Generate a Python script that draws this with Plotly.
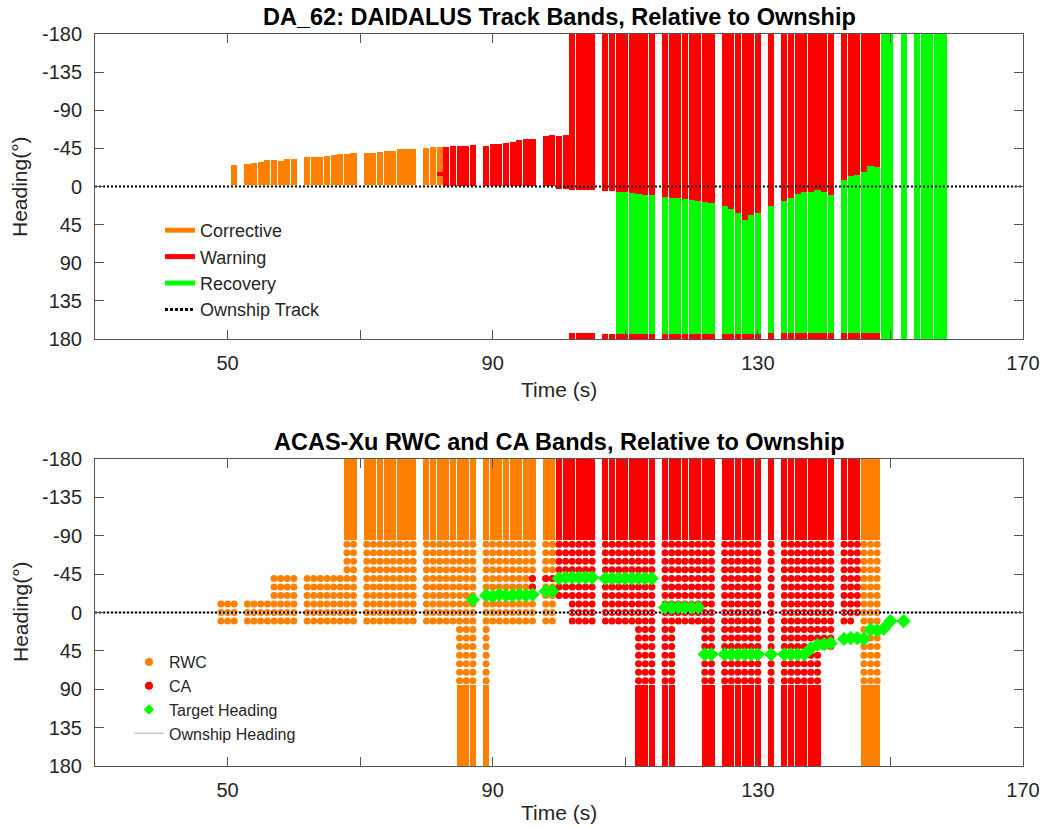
import plotly.graph_objects as go

# ---------------- DAIDALUS (top panel) data ----------------
# Corrective (orange) bands: time, upper edge, lower edge (deg, relative)
corr_t = [51, 53, 54, 55, 56, 57, 58, 59, 60, 62, 63, 64, 65, 66, 67, 68, 69,
          71, 72, 73, 74, 75, 76, 77, 78, 80, 81, 82]
corr_top = [-25.6, -26.4, -27.6, -28.8, -30.7, -31.5, -30.3, -32.7, -32.7,
            -34.3, -34.3, -34.8, -36.2, -37.0, -37.8, -37.8, -39.4,
            -39.8, -39.8, -41.0, -41.4, -41.8, -44.6, -44.2, -44.2,
            -45.8, -46.2, -46.2]
corr_bot = [-2] * 28

# Warning (red) main bands
warn_t = [83, 84, 85, 86, 87, 89, 90, 91, 92, 93, 94, 95, 96, 98, 99, 100, 101,
          102, 103, 104, 105, 107, 108, 109, 110, 111, 112, 113, 114,
          116, 117, 118, 119, 120, 121, 122, 123, 125, 126, 127, 128, 129, 130,
          132, 134, 135, 136, 137, 138, 139, 140, 141,
          143, 144, 145, 146, 147, 148]
warn_top = [-46.6, -47.4, -47.8, -47.4, -48.6, -48.2, -50.2, -50.6, -51.0, -52.9,
            -54.5, -56.5, -56.5, -59.2, -60.8, -60.0, -60.8,
            -180, -180, -180, -180, -180, -180, -180, -180, -180, -180, -180, -180,
            -180, -180, -180, -180, -180, -180, -180, -180,
            -180, -180, -180, -180, -180, -180,
            -180, -180, -180, -180, -180, -180, -180, -180, -180,
            -180, -180, -180, -180, -180, -180]
warn_bot = [-1, -1, -1, -1, -1, -1, -1, -1, -1, -1, -1, -1, -1, -1, -1, 3, 3,
            4, 4, 4, 4, 5.1, 5.1, 6.7, 6.7, 7.9, 8.7, 9.8, 10.6,
            11.8, 13.0, 13.8, 14.6, 15.7, 16.9, 18.5, 19.7,
            23.6, 26.7, 31.5, 39.4, 33.5, 30.7,
            22.8, 16.9, 13.0, 8.7, 5.9, 5.9, 4.3, 5.9, 10.6,
            -7.9, -12.6, -13.8, -16.6, -24.4, -22.8]

# Warning (red) secondary segments (small patch + strip near 180)
warn2_t = [82, 102, 103, 104, 105, 107, 108, 109, 110, 111, 112, 113, 114,
           116, 117, 118, 119, 120, 121, 122, 123, 125, 126, 127, 128, 129, 130,
           132, 134, 135, 136, 137, 138, 139, 140, 141,
           143, 144, 145, 146, 147, 148]
warn2_top = [-17, 172.6, 172.6, 172.6, 172.6] + [174] * 22 + [173] * 15
warn2_bot = [-12] + [180] * 41

# Recovery (green) bands
rec_t = [109, 110, 111, 112, 113, 114, 116, 117, 118, 119, 120, 121, 122, 123,
         125, 126, 127, 128, 129, 130, 132, 134, 135, 136, 137, 138, 139, 140, 141,
         143, 144, 145, 146, 147, 148, 149, 150, 152, 154, 155, 156, 157, 158]
rec_top = [6.7, 6.7, 7.9, 8.7, 9.8, 10.6,
           11.8, 13.0, 13.8, 14.6, 15.7, 16.9, 18.5, 19.7,
           23.6, 26.7, 31.5, 39.4, 33.5, 30.7,
           22.8, 16.9, 13.0, 8.7, 5.9, 5.9, 4.3, 5.9, 10.6,
           -7.9, -12.6, -13.8, -16.6, -24.4, -22.8,
           -180, -180, -180, -180, -180, -180, -180, -180]
rec_bot = [174] * 20 + [173] * 15 + [180] * 8

# ---------------- ACAS-Xu (bottom panel) data ----------------
acas_t = [49, 50, 51, 53, 54, 55, 56, 57, 58, 59, 60, 62, 63, 64, 65, 66, 67, 68, 69,
          71, 72, 73, 74, 75, 76, 77, 78, 80, 81, 82, 83, 84, 85, 86, 87,
          89, 90, 91, 92, 93, 94, 95, 96, 98, 99,
          100, 101, 102, 103, 104, 105, 107, 108, 109, 110, 111, 112, 113, 114,
          116, 117, 118, 119, 120, 121, 122, 123, 125, 126, 127, 128, 129, 130,
          132, 134, 135, 136, 137, 138, 139, 140, 141, 143, 144, 145,
          146, 147, 148]
acas_kind = (['RWC'] * 45 + ['CA'] * 40 + ['RWC'] * 3)
acas_lo = ([-10] * 7 + [-40] * 10 + [-80] * 71)
acas_hi = ([10] * 7 + [10] * 10 + [10] * 2 + [10] * 8 + [10] * 5 + [80] * 3 +
           [80] + [10] * 7 + [10] * 2 +
           [-20] * 2 + [10] * 4 + [10] * 5 + [80] * 3 +
           [80] * 2 + [10] * 4 + [80] * 2 + [80] * 6 +
           [80] + [80] * 6 + [40] * 2 + [10, 10, 0] +
           [80] * 3)
acas_upper = ([0] * 17 + [1] * 71)
acas_lower = ([0] * 32 + [1] * 3 + [1] + [0] * 7 + [0] * 2 +
              [0] * 2 + [0] * 4 + [0] * 5 + [1] * 3 +
              [1] * 2 + [0] * 4 + [1] * 2 + [1] * 6 +
              [1] + [1] * 6 + [0] * 2 + [0] * 3 +
              [1] * 3)
# extra CA cells inside RWC columns
ca_extra_t = [96, 96, 98, 99]
ca_extra_h = [-40, -30, -40, -40]
# discrete heading cells drawn as dots; solid beyond +/-85
dot_headings = [-80, -70, -60, -50, -40, -30, -20, -10, 0, 10, 20, 30, 40, 50, 60, 70, 80]
solid_edge = 85

# Target heading (relative)
tgt_t = [87, 89, 90, 91, 92, 93, 94, 95, 96, 98, 99,
         100, 101, 102, 103, 104, 105, 107, 108, 109, 110, 111, 112, 113, 114,
         116, 117, 118, 119, 120, 121, 122, 123, 125, 126, 127, 128, 129, 130,
         132, 134, 135, 136, 137, 138, 139, 140, 141, 143, 144, 145,
         146, 147, 148, 149, 150, 152]
tgt_h = [-15, -20, -19, -21, -20, -20, -21, -20, -21, -25, -25,
         -40, -41, -41, -41, -41, -41, -40, -40, -40, -40, -40, -40, -40, -40,
         -6, -6, -6, -6, -6, -6, 49, 49, 49, 49, 49, 49, 49, 49,
         49, 49, 49, 49, 49, 42, 38, 37, 36, 31, 30, 30,
         31, 20, 21, 19, 10, 10]

time_range = [30, 170]
x_tickvals = [50, 70, 90, 110, 130, 150, 170]
x_ticktext = ['50', '', '90', '', '130', '', '170']
y_tickvals = [-180, -135, -90, -45, 0, 45, 90, 135, 180]
y_ticktext = ['-180', '-135', '-90', '-45', '0', '45', '90', '135', '180']

ORANGE, RED, GREEN = '#FF8000', '#FF0000', '#00FF00'
FONT = 'Liberation Sans, Arial, Helvetica, sans-serif'

W, H = 1040, 828
ML, MR, MT, MB = 95, 17, 34, 62


def py(ypx):
    """pixel row -> paper y"""
    return (H - MB - ypx) / (H - MT - MB)


def px(xpx):
    """pixel column -> paper x"""
    return (xpx - ML) / (W - ML - MR)


fig = go.Figure()


def add_bars(t, lo, hi, color, xa, ya):
    fig.add_trace(go.Bar(
        x=t, base=lo, y=[h - l for l, h in zip(lo, hi)],
        width=0.92, marker=dict(color=color, line=dict(width=0)),
        xaxis=xa, yaxis=ya, showlegend=False, hoverinfo='skip'))


# ---- top panel ----
add_bars(corr_t, corr_top, corr_bot, ORANGE, 'x', 'y')
add_bars(warn_t, warn_top, warn_bot, RED, 'x', 'y')
add_bars(warn2_t, warn2_top, warn2_bot, RED, 'x', 'y')
add_bars(rec_t, rec_top, rec_bot, GREEN, 'x', 'y')
fig.add_trace(go.Scatter(x=time_range, y=[0, 0], mode='lines',
                         line=dict(color='black', width=2, dash='2px,2px'),
                         xaxis='x', yaxis='y', showlegend=False, hoverinfo='skip'))
for nm, col in [('Corrective', ORANGE), ('Warning', RED), ('Recovery', GREEN)]:
    fig.add_trace(go.Scatter(x=[None], y=[None], mode='lines', name=nm,
                             line=dict(color=col, width=5), xaxis='x', yaxis='y',
                             legend='legend'))
fig.add_trace(go.Scatter(x=[None], y=[None], mode='lines', name='Ownship Track',
                         line=dict(color='black', width=3, dash='3px,2px'),
                         xaxis='x', yaxis='y', legend='legend'))

# ---- bottom panel ----
up_rwc = [t for t, k, u in zip(acas_t, acas_kind, acas_upper) if u and k == 'RWC']
up_ca = [t for t, k, u in zip(acas_t, acas_kind, acas_upper) if u and k == 'CA']
lo_rwc = [t for t, k, u in zip(acas_t, acas_kind, acas_lower) if u and k == 'RWC']
lo_ca = [t for t, k, u in zip(acas_t, acas_kind, acas_lower) if u and k == 'CA']
add_bars(up_rwc, [-180] * len(up_rwc), [-solid_edge] * len(up_rwc), ORANGE, 'x2', 'y2')
add_bars(up_ca, [-180] * len(up_ca), [-solid_edge] * len(up_ca), RED, 'x2', 'y2')
add_bars(lo_rwc, [solid_edge] * len(lo_rwc), [180] * len(lo_rwc), ORANGE, 'x2', 'y2')
add_bars(lo_ca, [solid_edge] * len(lo_ca), [180] * len(lo_ca), RED, 'x2', 'y2')

dots = {'RWC': ([], []), 'CA': ([], [])}
for t, k, lo, hi in zip(acas_t, acas_kind, acas_lo, acas_hi):
    for h in dot_headings:
        if lo <= h <= hi:
            dots[k][0].append(t)
            dots[k][1].append(h)
dots['CA'][0].extend(ca_extra_t)
dots['CA'][1].extend(ca_extra_h)
for k, col in [('RWC', ORANGE), ('CA', RED)]:
    fig.add_trace(go.Scatter(x=dots[k][0], y=dots[k][1], mode='markers',
                             marker=dict(color=col, size=7, line=dict(width=0)),
                             xaxis='x2', yaxis='y2', showlegend=False, hoverinfo='skip'))

fig.add_trace(go.Scatter(x=time_range, y=[0, 0], mode='lines',
                         line=dict(color='#c8c8c8', width=1.5),
                         xaxis='x2', yaxis='y2', showlegend=False, hoverinfo='skip'))
fig.add_trace(go.Scatter(x=time_range, y=[0, 0], mode='lines',
                         line=dict(color='black', width=2, dash='2px,2px'),
                         xaxis='x2', yaxis='y2', showlegend=False, hoverinfo='skip'))
fig.add_trace(go.Scatter(x=tgt_t, y=tgt_h, mode='markers',
                         marker=dict(color=GREEN, symbol='diamond', size=11, line=dict(width=0)),
                         xaxis='x2', yaxis='y2', showlegend=False, hoverinfo='skip'))

# legend entries bottom
fig.add_trace(go.Scatter(x=[None], y=[None], mode='markers', name='RWC',
                         marker=dict(color=ORANGE, size=8), xaxis='x2', yaxis='y2', legend='legend2'))
fig.add_trace(go.Scatter(x=[None], y=[None], mode='markers', name='CA',
                         marker=dict(color=RED, size=8), xaxis='x2', yaxis='y2', legend='legend2'))
fig.add_trace(go.Scatter(x=[None], y=[None], mode='markers', name='Target Heading',
                         marker=dict(color=GREEN, size=8, symbol='diamond'), xaxis='x2', yaxis='y2',
                         legend='legend2'))
fig.add_trace(go.Scatter(x=[None], y=[None], mode='lines', name='Ownship Heading',
                         line=dict(color='#c8c8c8', width=1.5), xaxis='x2', yaxis='y2',
                         legend='legend2'))

axis_common = dict(showline=True, mirror='ticks', linecolor='#555555', linewidth=1,
                   ticks='inside', ticklen=9, tickcolor='#555555', tickwidth=1,
                   showgrid=False, zeroline=False, automargin=False,
                   tickfont=dict(family=FONT, size=20, color='#262626'))

fig.update_layout(
    template='none',
    width=W, height=H, margin=dict(l=ML, r=MR, t=MT, b=MB, autoexpand=False),
    paper_bgcolor='white', plot_bgcolor='white', barmode='overlay', bargap=0,
    font=dict(family=FONT, color='#262626'),
    xaxis=dict(domain=[0, 1], anchor='y', range=time_range, tickvals=x_tickvals,
               ticktext=x_ticktext, ticklabelstandoff=6, **axis_common),
    yaxis=dict(domain=[py(339), 1], anchor='x', range=[180, -180], tickvals=y_tickvals,
               ticktext=y_ticktext, ticklabelstandoff=8, **axis_common),
    xaxis2=dict(domain=[0, 1], anchor='y2', range=time_range, tickvals=x_tickvals,
                ticktext=x_ticktext, ticklabelstandoff=6, **axis_common),
    yaxis2=dict(domain=[0, py(459)], anchor='x2', range=[180, -180], tickvals=y_tickvals,
                ticktext=y_ticktext, ticklabelstandoff=8, **axis_common),
    legend=dict(x=px(160), y=py(212), xanchor='left', yanchor='top',
                bgcolor='rgba(0,0,0,0)', borderwidth=0,
                font=dict(family=FONT, size=18, color='#262626'), tracegroupgap=0),
    legend2=dict(x=px(129), y=py(645), xanchor='left', yanchor='top',
                 bgcolor='rgba(0,0,0,0)', borderwidth=0,
                 font=dict(family=FONT, size=16, color='#262626'), tracegroupgap=0),
    annotations=[
        dict(text='<b>DA_62: DAIDALUS Track Bands, Relative to Ownship</b>', x=0.5, y=py(17),
             xref='paper', yref='paper', showarrow=False, xanchor='center', yanchor='middle',
             font=dict(family=FONT, size=23.5, color='black')),
        dict(text='<b>ACAS-Xu RWC and CA Bands, Relative to Ownship</b>', x=0.5, y=py(442),
             xref='paper', yref='paper', showarrow=False, xanchor='center', yanchor='middle',
             font=dict(family=FONT, size=23.5, color='black')),
        dict(text='Time (s)', x=0.5, y=py(389), xref='paper', yref='paper', showarrow=False,
             xanchor='center', yanchor='middle', font=dict(family=FONT, size=21, color='#262626')),
        dict(text='Time (s)', x=0.5, y=py(812), xref='paper', yref='paper', showarrow=False,
             xanchor='center', yanchor='middle', font=dict(family=FONT, size=21, color='#262626')),
        dict(text='Heading(°)', x=px(20), y=py(187), xref='paper', yref='paper', showarrow=False,
             textangle=-90, xanchor='center', yanchor='middle',
             font=dict(family=FONT, size=21, color='#262626')),
        dict(text='Heading(°)', x=px(20), y=py(612), xref='paper', yref='paper', showarrow=False,
             textangle=-90, xanchor='center', yanchor='middle',
             font=dict(family=FONT, size=21, color='#262626')),
    ],
)

fig.write_html('out.html', config={'displayModeBar': False},
               post_script="document.body.style.margin='0';document.body.style.overflow='hidden';")
